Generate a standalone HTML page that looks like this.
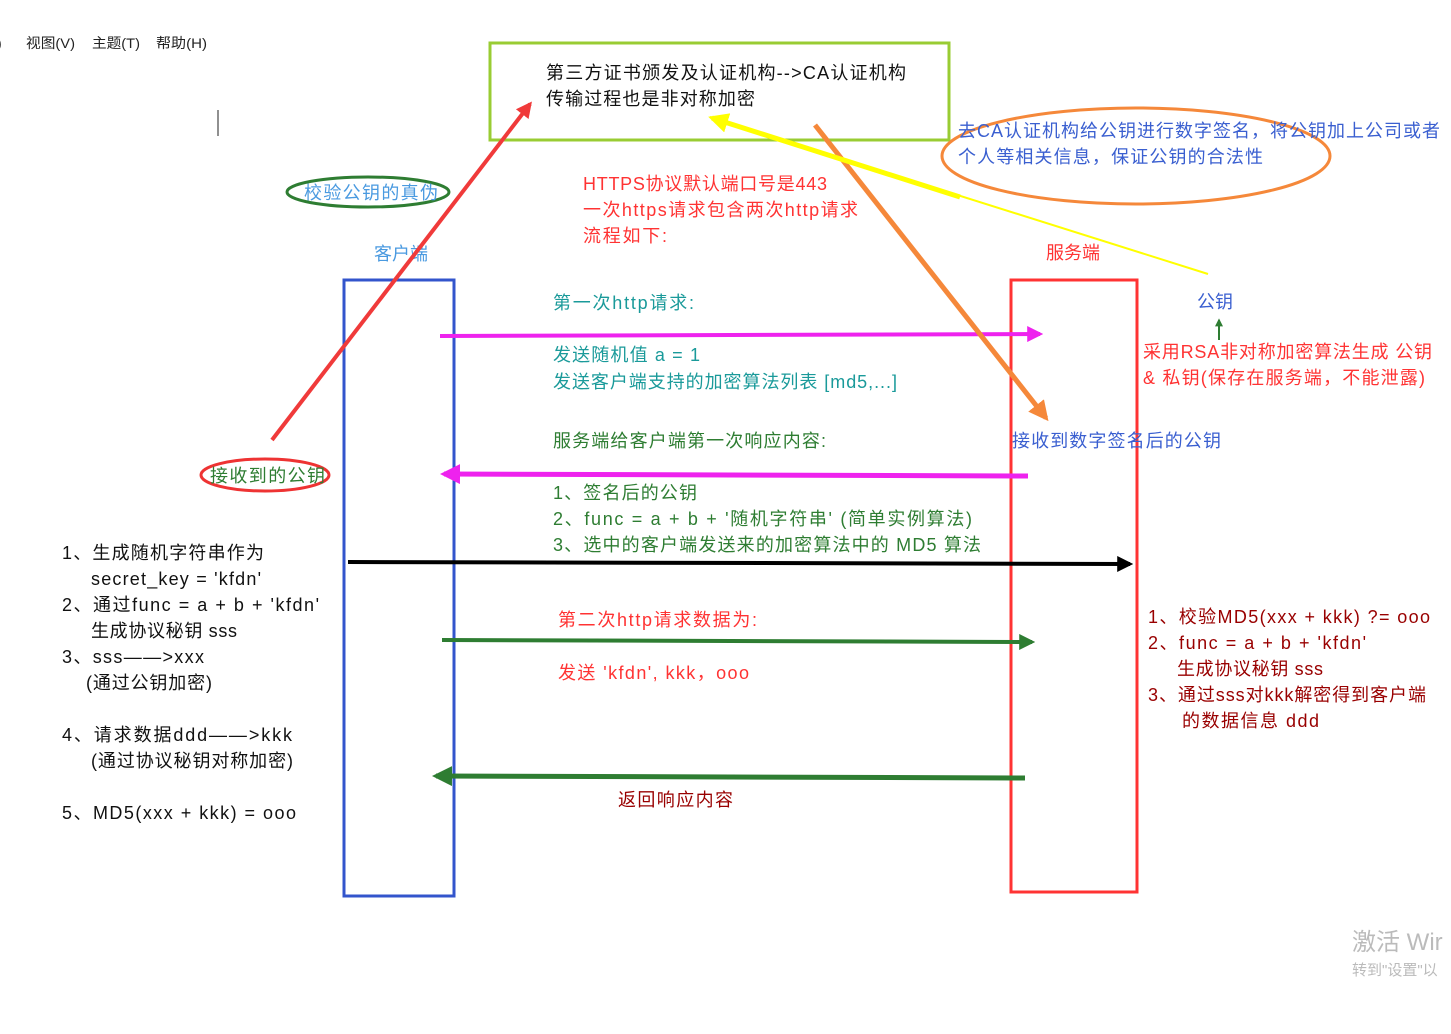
<!DOCTYPE html>
<html><head><meta charset="utf-8"><style>
body{margin:0;background:#fff;width:1451px;height:1029px;overflow:hidden}
svg text{font-family:"Liberation Sans","Noto Sans CJK SC",sans-serif;font-size:18px}
</style></head><body>
<svg width="1451" height="1029" xmlns="http://www.w3.org/2000/svg">
<defs>
<marker id="m" viewBox="0 0 10 10" refX="8" refY="5" markerWidth="4" markerHeight="4" orient="auto"><path d="M0,0L10,5L0,10z" fill="context-stroke"/></marker>
</defs>
<text x="-3" y="48" style="font-size:14px" fill="#222">)</text>
<text x="26" y="48" style="font-size:14px" fill="#222" textLength="49" lengthAdjust="spacingAndGlyphs">视图(V)</text>
<text x="92" y="48" style="font-size:14px" fill="#222" textLength="48" lengthAdjust="spacingAndGlyphs">主题(T)</text>
<text x="156" y="48" style="font-size:14px" fill="#222" textLength="51" lengthAdjust="spacingAndGlyphs">帮助(H)</text>
<line x1="218" y1="110" x2="218" y2="136" stroke="#222" stroke-width="1"/>
<rect x="490" y="43" width="459" height="97" fill="none" stroke="#9c3" stroke-width="3"/>
<text x="546" y="79" fill="#111" textLength="360">第三方证书颁发及认证机构--&gt;CA认证机构</text>
<text x="546" y="105" fill="#111" textLength="209">传输过程也是非对称加密</text>
<ellipse cx="1136" cy="156" rx="194" ry="48" fill="none" stroke="#f5883a" stroke-width="3"/>
<text x="958" y="137" fill="#3a5fd0" textLength="482">去CA认证机构给公钥进行数字签名，将公钥加上公司或者</text>
<text x="958" y="163" fill="#3a5fd0" textLength="305">个人等相关信息，保证公钥的合法性</text>
<ellipse cx="368" cy="192" rx="81" ry="15" fill="none" stroke="#2e7d32" stroke-width="3"/>
<text x="304" y="199" fill="#4a9ae0" textLength="134">校验公钥的真伪</text>
<text x="583" y="190" fill="#ff3333" textLength="244">HTTPS协议默认端口号是443</text>
<text x="583" y="216" fill="#ff3333" textLength="275">一次https请求包含两次http请求</text>
<text x="583" y="242" fill="#ff3333" textLength="84">流程如下:</text>
<text x="374" y="260" fill="#4a9ae0">客户端</text>
<text x="1046" y="259" fill="#ff3333">服务端</text>
<rect x="344" y="280" width="110" height="616" fill="none" stroke="#3355cc" stroke-width="3"/>
<rect x="1011" y="280" width="126" height="612" fill="none" stroke="#ff3333" stroke-width="3"/>
<text x="1197" y="308" fill="#3a5fd0">公钥</text>
<line x1="1219" y1="340" x2="1219" y2="320" stroke="#2e7d32" stroke-width="2" marker-end="url(#m)"/>
<text x="1143" y="358" fill="#ff3333" textLength="289">采用RSA非对称加密算法生成 公钥</text>
<text x="1143" y="384" fill="#ff3333" textLength="282">&amp; 私钥(保存在服务端，不能泄露)</text>
<text x="553" y="309" fill="#1a9a9a" textLength="141">第一次http请求:</text>
<line x1="440" y1="336" x2="1040" y2="334" stroke="#ee22ee" stroke-width="4" marker-end="url(#m)"/>
<text x="553" y="361" fill="#1a9a9a" textLength="147">发送随机值 a = 1</text>
<text x="553" y="388" fill="#1a9a9a" textLength="344">发送客户端支持的加密算法列表 [md5,...]</text>
<text x="553" y="447" fill="#2e7d32" textLength="273">服务端给客户端第一次响应内容:</text>
<text x="1012" y="447" fill="#3a5fd0" textLength="209">接收到数字签名后的公钥</text>
<line x1="1028" y1="476" x2="444" y2="474" stroke="#ee22ee" stroke-width="5" marker-end="url(#m)"/>
<ellipse cx="265" cy="475" rx="64" ry="16" fill="none" stroke="#ee3333" stroke-width="3"/>
<text x="210" y="482" fill="#2e7d32" textLength="115">接收到的公钥</text>
<text x="553" y="499" fill="#2e7d32" textLength="144">1、签名后的公钥</text>
<text x="553" y="525" fill="#2e7d32" textLength="419">2、func = a + b + '随机字符串'  (简单实例算法)</text>
<text x="553" y="551" fill="#2e7d32" textLength="428">3、选中的客户端发送来的加密算法中的 MD5 算法</text>
<line x1="348" y1="562" x2="1130" y2="564" stroke="#000" stroke-width="4" marker-end="url(#m)"/>
<g fill="#111">
<text x="62" y="559" textLength="202">1、生成随机字符串作为</text>
<text x="91" y="585" textLength="170">secret_key = 'kfdn'</text>
<text x="62" y="611" textLength="257">2、通过func = a + b + 'kfdn'</text>
<text x="91" y="637" textLength="146">生成协议秘钥 sss</text>
<text x="62" y="663" textLength="142">3、sss——&gt;xxx</text>
<text x="86" y="689" textLength="126">(通过公钥加密)</text>
<text x="62" y="741" textLength="230">4、请求数据ddd——&gt;kkk</text>
<text x="91" y="767" textLength="202">(通过协议秘钥对称加密)</text>
<text x="62" y="819" textLength="234">5、MD5(xxx + kkk) = ooo</text>
</g>
<text x="558" y="626" fill="#ff3333" textLength="199">第二次http请求数据为:</text>
<line x1="442" y1="640" x2="1032" y2="642" stroke="#2e7d32" stroke-width="4" marker-end="url(#m)"/>
<text x="558" y="679" fill="#ff3333" textLength="191">发送 'kfdn', kkk，ooo</text>
<g fill="#990000">
<text x="1148" y="623" textLength="282">1、校验MD5(xxx + kkk) ?= ooo</text>
<text x="1148" y="649" textLength="218">2、func = a + b + 'kfdn'</text>
<text x="1177" y="675" textLength="146">生成协议秘钥 sss</text>
<text x="1148" y="701" textLength="278">3、通过sss对kkk解密得到客户端</text>
<text x="1182" y="727" textLength="137">的数据信息 ddd</text>
</g>
<line x1="1025" y1="778" x2="436" y2="776" stroke="#2e7d32" stroke-width="5" marker-end="url(#m)"/>
<text x="618" y="806" fill="#990000" textLength="115">返回响应内容</text>
<line x1="272" y1="440" x2="530" y2="104" stroke="#f03a3a" stroke-width="4" marker-end="url(#m)"/>
<line x1="815" y1="125" x2="1046" y2="418" stroke="#f5883a" stroke-width="5" marker-end="url(#m)"/>
<line x1="1208" y1="274" x2="710" y2="117" stroke="#ffff00" stroke-width="2"/>
<line x1="960" y1="197" x2="712" y2="118" stroke="#ffff00" stroke-width="5" marker-end="url(#m)"/>
<text x="1352" y="950" style="font-size:24px" fill="#bbb">激活 Wir</text>
<text x="1352" y="975" style="font-size:15px" fill="#bbb">转到"设置"以</text>
</svg>
</body></html>
